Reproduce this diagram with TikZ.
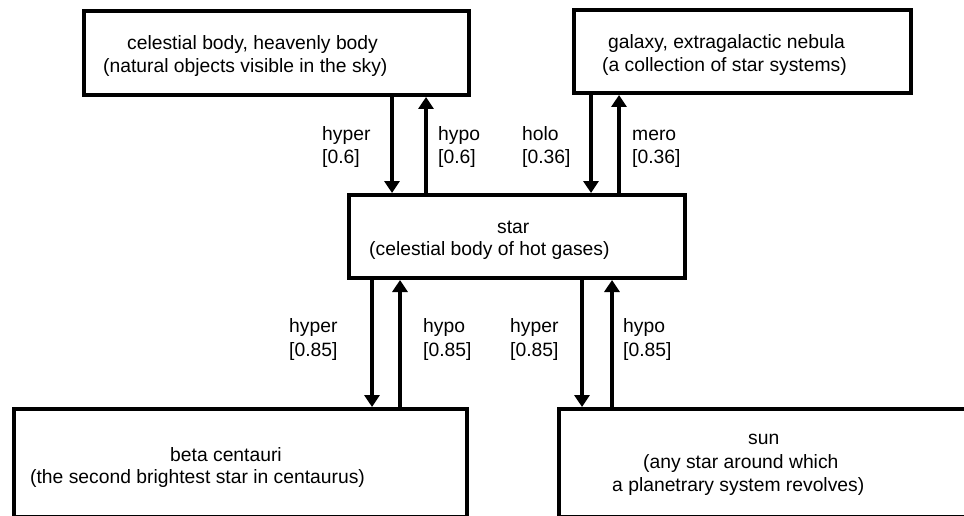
\documentclass[tikz,border=0pt]{standalone}
\usepackage{fontspec}
\setmainfont{Liberation Sans}
\usetikzlibrary{arrows.meta}
\tikzset{
  box/.style={draw, line width=4pt, rectangle, inner sep=0pt, anchor=north west},
  txt/.style={inner sep=0pt, anchor=base west, font=\fontsize{19.3}{23}\selectfont},
  link/.style={line width=4pt, -{Triangle[width=15pt,length=12pt]}},
}
\begin{document}
\begin{tikzpicture}[x=1pt,y=-1pt]
  % canvas
  \useasboundingbox (0,0) rectangle (964,516);
  \fill[white] (0,0) rectangle (964,516);
  \clip (0,0) rectangle (964,516);

  % concept boxes
  \node (body)   [box, minimum width=385pt, minimum height=84pt] at (82,9) {};
  \node (galaxy) [box, minimum width=337pt, minimum height=83pt] at (572,8) {};
  \node (star)   [box, minimum width=336pt, minimum height=83pt] at (347,193) {};
  \node (beta)   [box, minimum width=453pt, minimum height=108pt] at (12,407) {};
  \node (sun)    [box, minimum width=449pt, minimum height=108pt] at (557,407) {};

  % x positions of the vertical links
  \coordinate (ua) at (392,0);
  \coordinate (ub) at (426,0);
  \coordinate (uc) at (591,0);
  \coordinate (ud) at (619,0);
  \coordinate (la) at (372,0);
  \coordinate (lb) at (400,0);
  \coordinate (lc) at (582,0);
  \coordinate (ld) at (612,0);

  % links between star and its neighbours
  \draw[link] (body.south -| ua) -- (star.north -| ua);
  \draw[link] (star.north -| ub) -- (body.south -| ub);
  \draw[link] (galaxy.south -| uc) -- (star.north -| uc);
  \draw[link] (star.north -| ud) -- (galaxy.south -| ud);
  \draw[link] (star.south -| la) -- (beta.north -| la);
  \draw[link] (beta.north -| lb) -- (star.south -| lb);
  \draw[link] (star.south -| lc) -- (sun.north -| lc);
  \draw[link] (sun.north -| ld) -- (star.south -| ld);

  % box texts
  \node (bodyA)   [txt] at (127,50)  {celestial body, heavenly body};
  \node (bodyB)   [txt] at (103,73)  {(natural objects visible in the sky)};
  \node (galaxyA) [txt] at (608,49)  {galaxy, extragalactic nebula};
  \node (galaxyB) [txt] at (602,72)  {(a collection of star systems)};
  \node (starA)   [txt] at (497,233) {star};
  \node (starB)   [txt] at (369,255) {(celestial body of hot gases)};
  \node (betaA)   [txt] at (170,461) {beta centauri};
  \node (betaB)   [txt] at (30,483)  {(the second brightest star in centaurus)};
  \node (sunA)    [txt] at (748,444) {sun};
  \node (sunB)    [txt] at (643,468) {(any star around which};
  \node (sunC)    [txt] at (612,491) {a planetrary system revolves)};

  % link labels
  \node (l1a) [txt] at (322,141) {hyper};
  \node (l1b) [txt] at (322,164) {[0.6]};
  \node (l2a) [txt] at (438,141) {hypo};
  \node (l2b) [txt] at (438,164) {[0.6]};
  \node (l3a) [txt] at (522,141) {holo};
  \node (l3b) [txt] at (522,164) {[0.36]};
  \node (l4a) [txt] at (632,141) {mero};
  \node (l4b) [txt] at (632,164) {[0.36]};
  \node (l5a) [txt] at (289,332) {hyper};
  \node (l5b) [txt] at (289,356) {[0.85]};
  \node (l6a) [txt] at (423,332) {hypo};
  \node (l6b) [txt] at (423,356) {[0.85]};
  \node (l7a) [txt] at (510,332) {hyper};
  \node (l7b) [txt] at (510,356) {[0.85]};
  \node (l8a) [txt] at (623,332) {hypo};
  \node (l8b) [txt] at (623,356) {[0.85]};
\end{tikzpicture}
\end{document}
